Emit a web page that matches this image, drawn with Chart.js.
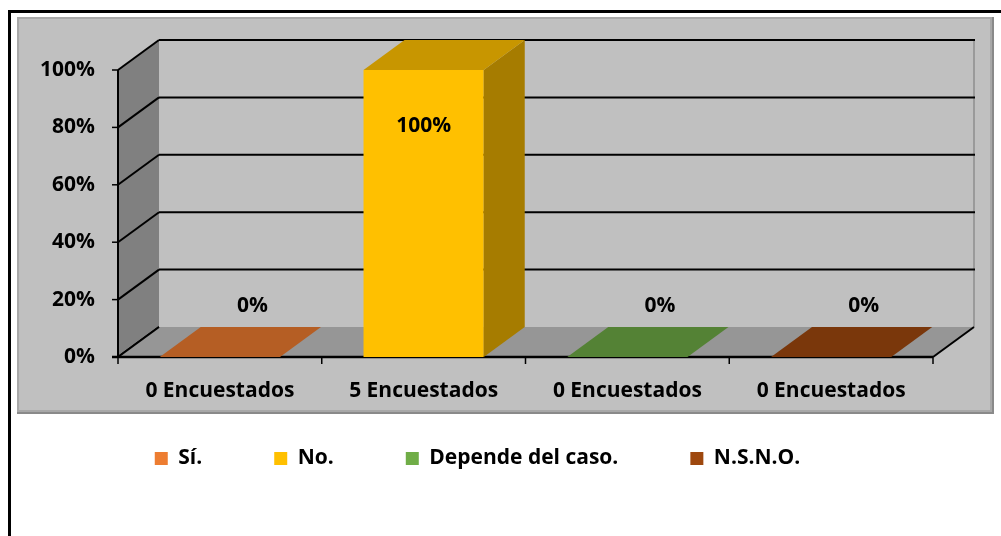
<!DOCTYPE html>
<html>
<head>
<meta charset="utf-8">
<script src="https://cdn.jsdelivr.net/npm/chart.js@4.4.0/dist/chart.umd.min.js"></script>
<style>
  html, body { margin: 0; padding: 0; background: #fff; }
  #wrap { position: relative; width: 1001px; height: 536px; }
</style>
</head>
<body>
<div id="wrap"><canvas id="chart" width="1001" height="536"></canvas></div>
<script>
const categories = ['0 Encuestados', '5 Encuestados', '0 Encuestados', '0 Encuestados'];
const seriesNames = ['Sí.', 'No.', 'Depende del caso.', 'N.S.N.O.'];
const percentages = [0, 100, 0, 0];
const yTicks = [0, 20, 40, 60, 80, 100];
const faceColors = ['#ED7D31', '#FFC000', '#70AD47', '#9E480E'];
const topColors = ['#B55E24', '#C89600', '#548235', '#7A370B'];
const sideColors = ['#9C5020', '#A67C00', '#48702D', '#652D09'];

const FONT = '"Open Sans", Lato, sans-serif';
const FS = 21;
const DX = 41;   // depth offset of the 3D box
const DY = -30;

function poly(c, pts, fill) {
  c.beginPath();
  c.moveTo(pts[0][0], pts[0][1]);
  for (let i = 1; i < pts.length; i++) c.lineTo(pts[i][0], pts[i][1]);
  c.closePath();
  c.fillStyle = fill;
  c.fill();
}

function line(c, x1, y1, x2, y2, color, w) {
  c.beginPath();
  c.moveTo(x1, y1);
  c.lineTo(x2, y2);
  c.strokeStyle = color;
  c.lineWidth = w;
  c.stroke();
}

const box3d = {
  id: 'box3d',
  afterLayout(chart) {
    // legend sits closer to the panel than the default box layout puts it
    chart.legend.top -= 26;
    chart.legend.bottom -= 26;
    chart.legend.left += 11;
    chart.legend.right += 11;
  },
  beforeDraw(chart) {
    const c = chart.ctx;
    c.save();
    c.fillStyle = '#fff';
    c.fillRect(0, 0, chart.width, chart.height);
    // outer black frame (left + top)
    c.fillStyle = '#000';
    c.fillRect(8, 10, 3, chart.height - 10);
    c.fillRect(8, 10, chart.width - 8, 3);
    // grey chart panel
    c.fillStyle = '#8a8a8a';
    c.fillRect(17, 17, 977, 397);
    c.fillStyle = '#a8a8a8';
    c.fillRect(17, 17, 975, 395);
    c.fillStyle = '#c0c0c0';
    c.fillRect(19, 19, 971, 391);
    c.restore();
  },
  beforeDatasetsDraw(chart) {
    const c = chart.ctx;
    const a = chart.chartArea;
    const y = chart.scales.y;
    const L = a.left, R = a.right, T = a.top, B = a.bottom;
    c.save();
    // side wall
    poly(c, [[L, T], [L + DX, T + DY], [L + DX, B + DY], [L, B]], '#808080');
    // back wall right edge
    line(c, R + DX, T + DY, R + DX, B + DY, '#9a9a9a', 2);
    // gridlines on back + side walls
    yTicks.forEach(v => {
      const py = y.getPixelForValue(v);
      if (v > 0) line(c, L + DX, py + DY, R + DX + 1, py + DY, '#000', 2);
      line(c, L, py, L + DX, py + DY, '#000', 2);
    });
    // floor
    poly(c, [[L, B], [L + DX, B + DY], [R + DX, B + DY], [R, B]], '#969696');
    line(c, L, B, L + DX, B + DY, '#000', 2);
    line(c, R, B, R + DX, B + DY, '#000', 2);
    // axes
    line(c, L, T, L, B + 1, '#000', 2);
    line(c, L - 6, B, R, B, '#000', 2.5);
    yTicks.forEach(v => {
      const py = y.getPixelForValue(v);
      line(c, L - 6, py, L, py, '#000', 1.5);
    });
    const x = chart.scales.x;
    const step = x.getPixelForValue(1) - x.getPixelForValue(0);
    for (let i = 0; i <= categories.length; i++) {
      const px = x.getPixelForValue(0) - step / 2 + i * step;
      line(c, px, B, px, B + 7, '#000', 1.5);
    }
    c.restore();
  },
  afterDatasetsDraw(chart) {
    const c = chart.ctx;
    const meta = chart.getDatasetMeta(0);
    c.save();
    meta.data.forEach((el, i) => {
      const p = el.getProps(['x', 'y', 'base', 'width'], true);
      const x1 = p.x - p.width / 2, x2 = p.x + p.width / 2;
      const top = p.y, base = p.base;
      if (percentages[i] > 0) {
        c.fillStyle = faceColors[i];
        c.fillRect(x1, top, x2 - x1, base - top);
        poly(c, [[x2, top], [x2 + DX, top + DY], [x2 + DX, base + DY], [x2, base]], sideColors[i]);
      }
      poly(c, [[x1, top], [x1 + DX, top + DY], [x2 + DX, top + DY], [x2, top]], topColors[i]);
    });
    // data labels
    c.fillStyle = '#000';
    c.font = 'bold ' + FS + 'px ' + FONT;
    c.textAlign = 'center';
    c.textBaseline = 'middle';
    meta.data.forEach((el, i) => {
      const p = el.getProps(['x', 'y', 'base'], true);
      const txt = percentages[i] + '%';
      if (percentages[i] > 0) c.fillText(txt, p.x, p.y + 56);
      else c.fillText(txt, p.x + DX / 2 + 12, p.base + DY / 2 - 36);
    });
    c.restore();
  }
};

new Chart(document.getElementById('chart'), {
  type: 'bar',
  data: {
    labels: categories,
    datasets: [{
      data: percentages,
      backgroundColor: 'rgba(0,0,0,0)',
      borderWidth: 0,
      categoryPercentage: 1,
      barPercentage: 0.59
    }]
  },
  options: {
    responsive: false,
    animation: false,
    devicePixelRatio: 1,
    layout: { padding: { left: 0, right: 68, top: 70, bottom: 31 } },
    plugins: {
      tooltip: { enabled: false },
      legend: {
        position: 'bottom',
        labels: {
          boxWidth: 13,
          boxHeight: 13,
          padding: 72,
          color: '#000',
          font: { family: FONT, size: FS, weight: 'bold' },
          generateLabels() {
            return seriesNames.map((t, i) => ({
              text: t, fillStyle: faceColors[i], strokeStyle: faceColors[i],
              lineWidth: 0, hidden: false, index: i, fontColor: '#000'
            }));
          }
        }
      }
    },
    scales: {
      x: {
        grid: { display: false, drawTicks: false, tickLength: 0 },
        border: { display: false },
        ticks: { color: '#000', padding: 21, maxRotation: 0, font: { family: FONT, size: FS, weight: 'bold' } },
        afterFit(scale) { scale.height = 45; }
      },
      y: {
        min: 0, max: 100,
        grid: { display: false, drawTicks: false, tickLength: 0 },
        border: { display: false },
        ticks: {
          stepSize: 20, color: '#000', padding: 23,
          font: { family: FONT, size: FS, weight: 'bold' },
          callback: v => v + '%'
        },
        afterFit(scale) { scale.width = 118; }
      }
    }
  },
  plugins: [box3d]
});
</script>
</body>
</html>
